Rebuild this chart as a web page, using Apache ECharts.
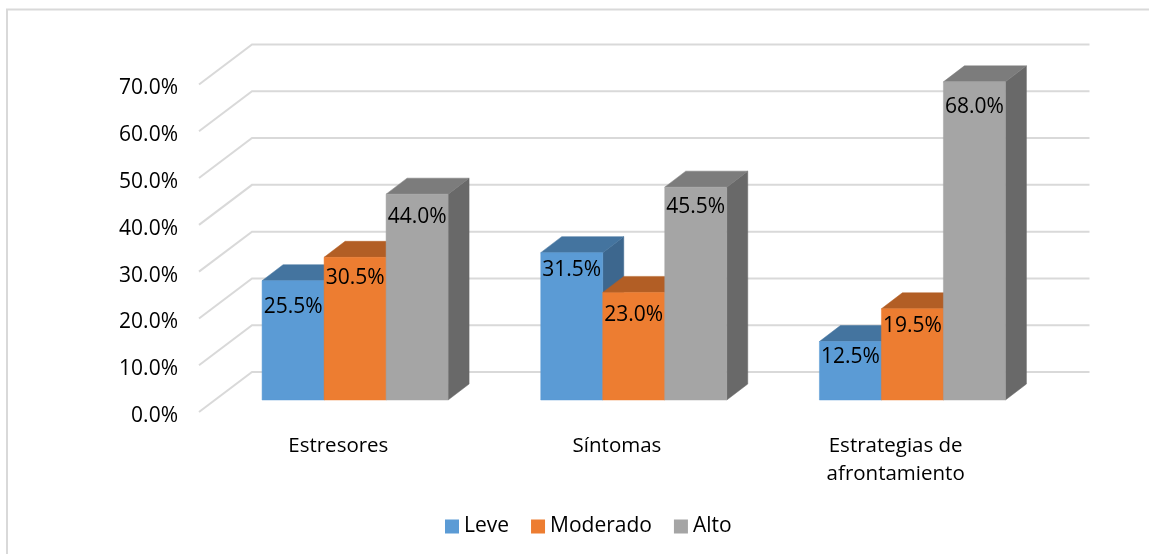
<!DOCTYPE html>
<html>
<head>
<meta charset="utf-8">
<style>html,body{margin:0;padding:0;background:#fff}#chart{width:1149px;height:554px}</style>
<script src="https://cdn.jsdelivr.net/npm/echarts@6/dist/echarts.min.js"></script>
</head>
<body>
<div id="chart"></div>
<script>
// Survey results by dimension, drawn as oblique 3D columns.
const categories = ['Estresores', 'Síntomas', 'Estrategias de\nafrontamiento'];
const leve = [25.5, 31.5, 12.5];
const moderado = [30.5, 23.0, 19.5];
const alto = [44.0, 45.5, 68.0];
const yTicks = [0, 10, 20, 30, 40, 50, 60, 70];

// Vertical drop of each value label below its column's front top edge, in px.
const labelDropLeve = [26, 17, 15];
const labelDropModerado = [20.5, 22.5, 17];
const labelDropAlto = [23, 19.5, 25.5];

// Oblique projection of the drawing.
const WALL_DX = 53, WALL_DY = -40;    // front plane to back wall
const WALL_OVERHANG = 1.5;            // gridlines run slightly past the last category
const BAR_DX = 16.75, BAR_DY = -12;   // front plane to column front face
const DEPTH_DX = 21, DEPTH_DY = -16;  // column depth
const BAR_W = 62;

const FONT = '"Open Sans"';
const GRID_COLOR = '#D9D9D9';

function poly(points, fill) {
  return { type: 'polygon', shape: { points }, style: { fill, stroke: fill, lineWidth: 0.5 } };
}

function columnSeries(name, values, drops, slot, front, top, side) {
  return {
    name,
    type: 'custom',
    coordinateSystem: 'cartesian2d',
    itemStyle: { color: front },
    data: values.map((v, i) => [i, v]),
    encode: { x: 0, y: 1 },
    clip: false,
    renderItem(params, api) {
      const i = api.value(0), v = api.value(1);
      const center = api.coord([i, 0])[0];
      const x0 = center + BAR_DX + (slot - 1.5) * BAR_W;
      const x1 = x0 + BAR_W;
      const yBase = api.coord([i, 0])[1] + BAR_DY;
      const yTop = api.coord([i, v])[1] + BAR_DY;
      return {
        type: 'group',
        children: [
          poly([[x1, yTop], [x1 + DEPTH_DX, yTop + DEPTH_DY], [x1 + DEPTH_DX, yBase + DEPTH_DY], [x1, yBase]], side),
          poly([[x0, yTop], [x0 + DEPTH_DX, yTop + DEPTH_DY], [x1 + DEPTH_DX, yTop + DEPTH_DY], [x1, yTop]], top),
          poly([[x0, yTop], [x1, yTop], [x1, yBase], [x0, yBase]], front),
          {
            type: 'text',
            z2: 100,
            style: {
              x: (x0 + x1) / 2,
              y: yTop + drops[i],
              text: v.toFixed(1) + '%',
              fill: '#000',
              font: '21px ' + FONT,
              align: 'center',
              verticalAlign: 'middle'
            }
          }
        ]
      };
    }
  };
}

// Floor-to-wall diagonals and back-wall gridlines, one per value tick.
const wallSeries = {
  type: 'custom',
  coordinateSystem: 'cartesian2d',
  silent: true,
  data: yTicks.map(t => [0, t]),
  encode: { y: 1 },
  clip: false,
  renderItem(params, api) {
    const rect = params.coordSys;
    const y = api.coord([0, api.value(1)])[1];
    return {
      type: 'polyline',
      shape: { points: [
        [rect.x, y],
        [rect.x + WALL_DX, y + WALL_DY],
        [rect.x + rect.width + WALL_DX + WALL_OVERHANG, y + WALL_DY]
      ] },
      style: { stroke: GRID_COLOR, lineWidth: 2, fill: null }
    };
  }
};

const chart = echarts.init(document.getElementById('chart'), null, { renderer: 'canvas' });
chart.setOption({
  animation: false,
  backgroundColor: '#fff',
  textStyle: { fontFamily: FONT },
  graphic: [{
    type: 'polyline',
    silent: true,
    shape: { points: [[7, 560], [7, 9.5], [1155, 9.5]] },
    style: { stroke: GRID_COLOR, lineWidth: 2, fill: null }
  }],
  legend: {
    left: 440,
    top: 511,
    itemWidth: 14,
    itemHeight: 14,
    itemGap: 22,
    icon: 'rect',
    data: ['Leve', 'Moderado', 'Alto'],
    textStyle: { fontFamily: FONT, fontSize: 21, color: '#000' }
  },
  grid: { left: 199, width: 836, top: 84.5, bottom: 142 },
  xAxis: {
    type: 'category',
    data: categories,
    axisLine: { show: false },
    axisTick: { show: false },
    splitLine: { show: false },
    axisLabel: { color: '#000', fontSize: 20.5, lineHeight: 28, margin: 20, interval: 0, fontFamily: FONT }
  },
  yAxis: {
    type: 'value',
    min: 0,
    max: 70,
    interval: 10,
    axisLine: { show: false },
    axisTick: { show: false },
    splitLine: { show: false },
    axisLabel: {
      color: '#000', fontSize: 21, margin: 21, fontFamily: FONT,
      verticalAlign: 'top',
      lineHeight: 8,
      formatter: v => v.toFixed(1) + '%'
    }
  },
  series: [
    wallSeries,
    columnSeries('Leve', leve, labelDropLeve, 0, '#5B9BD5', '#44749F', '#3D678E'),
    columnSeries('Moderado', moderado, labelDropModerado, 1, '#ED7D31', '#B25E25', '#9E5321'),
    columnSeries('Alto', alto, labelDropAlto, 2, '#A5A5A5', '#7C7C7C', '#696969')
  ]
});
</script>
</body>
</html>
